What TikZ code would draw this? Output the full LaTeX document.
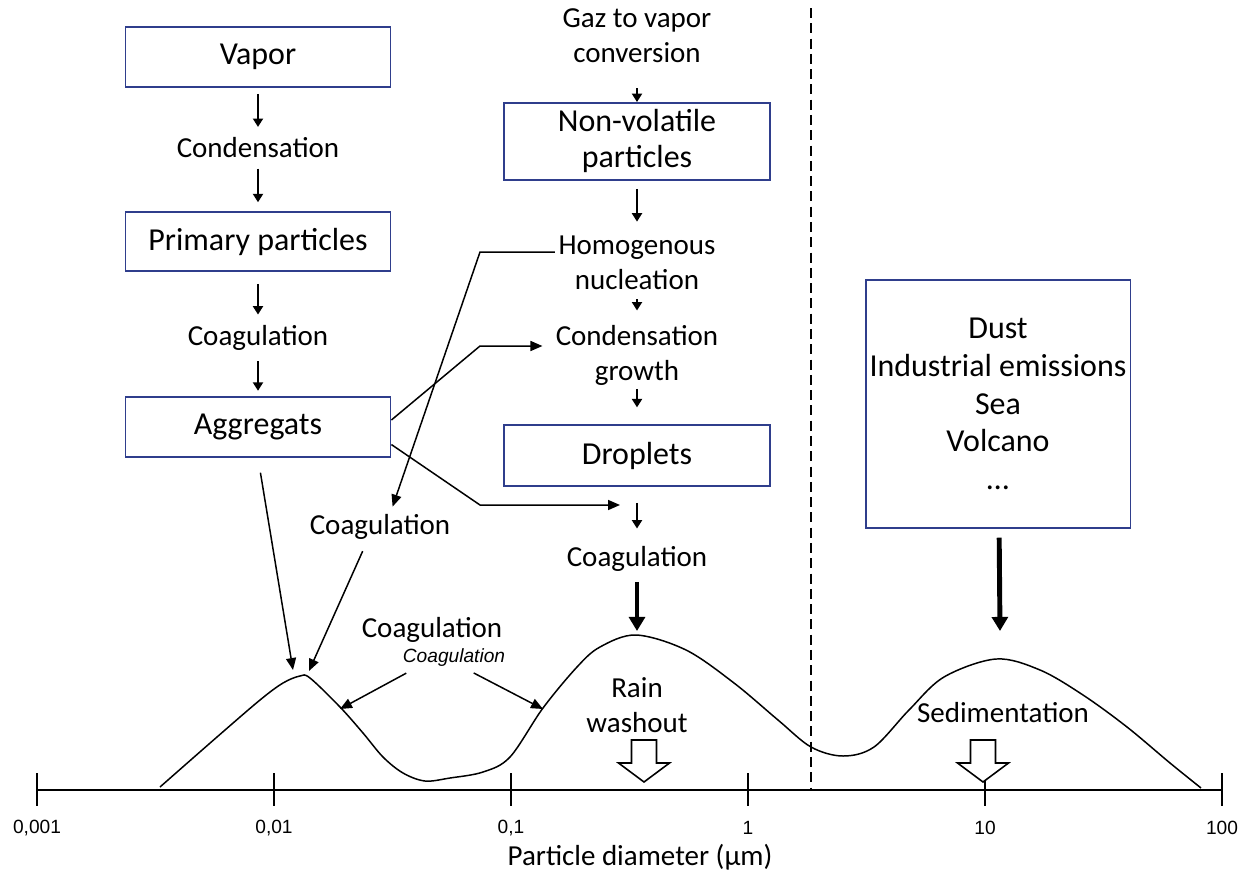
\documentclass[tikz,border=0pt]{standalone}
\usepackage{fontspec}
\setmainfont{Carlito}
\newfontfamily\arialfont{Liberation Sans}
\usetikzlibrary{arrows.meta}

\definecolor{boxblue}{RGB}{47,62,140}
\newcommand{\mainsize}{\fontsize{16.5}{20}\selectfont}
\newcommand{\boxsize}{\fontsize{18.2}{20.5}\selectfont}

\tikzset{
	procbox/.style={draw=boxblue, line width=1.1pt, inner sep=0pt, minimum width=5.3cm, minimum height=1.2cm, align=center, font=\boxsize},
	lbl/.style={inner sep=0pt, align=center, font=\mainsize},
	flow/.style={-{Triangle[length=4.8pt,width=5.7pt]}, line width=1.1pt},
	bigflow/.style={-{Triangle[length=8pt,width=9pt]}, line width=2.8pt},
	link/.style={-{Triangle[length=6.8pt,width=5.7pt]}, line width=0.85pt},
	openarr/.style={draw, fill=white, line width=0.9pt, line join=miter},
	ticklbl/.style={inner sep=0pt, font=\arialfont\fontsize{10.9}{12}\selectfont},
	axisline/.style={line width=1.1pt},
	sizecurve/.style={line width=0.85pt},
	divider/.style={line width=1pt, dash pattern=on 5.7pt off 3pt}
}

\begin{document}
\begin{tikzpicture}[x=0.02cm, y=-0.02cm, >=Stealth]
			
			\useasboundingbox (0,0) rectangle (1240,872);
			
			\node[procbox] (vapor) at (258,57) {Vapor};
			\node[lbl] (cond) at (258,148) {Condensation};
			\node[procbox, minimum height=1.18cm] (prim) at (258,241.5) {Primary particles};
			\node[lbl] (coagA) at (258,338) {Coagulation};
			\node[procbox] (aggr) at (258,427) {Aggregats};
			
			\node[lbl] (gaz) at (637,36) {Gaz to vapor\\conversion};
			\node[procbox, minimum width=5.32cm, minimum height=1.54cm, text depth=4pt] (nonvol) at (637,141.5) {Non-volatile\\particles};
			\node[lbl] (homog) at (637,263) {Homogenous\\nucleation};
			\node[lbl] (condgr) at (637,355) {Condensation\\growth};
			\node[procbox, minimum width=5.32cm, minimum height=1.22cm] (drop) at (637,455.5) {Droplets};
			\node[lbl] (coagB) at (637,559) {Coagulation};
			
			\node[procbox, minimum height=4.96cm, font=\fontsize{18.2}{21.5}\selectfont] (src) at (998,404)
			{Dust\\Industrial emissions\\Sea\\Volcano\\…};
			
			\node[lbl] (coagC) at (380,527) {Coagulation};
			\node[lbl] (coagD) at (432,630) {Coagulation};
			\node[lbl, font=\arialfont\itshape\fontsize{10.9}{12}\selectfont] (coagDi) at (454,658) {Coagulation};
			
			\coordinate (pkA1) at (293,670);
			\coordinate (pkA2) at (309,671);
			\coordinate (slA) at (340,709);
			\coordinate (slB) at (543,709);
			\coordinate (pkB) at (637,631);
			\coordinate (pkC) at (1000,631);
			\coordinate (bendH) at (480,252);
			\coordinate (bendG) at (480,346);
			\coordinate (bendD) at (480,505);
			\coordinate (dropin) at (620,505);
			
			\draw[divider] (811,8) -- (811,790);
			
			\draw[sizecurve] plot[smooth, tension=0.55] coordinates {(160,787) (217,737) (260,700) (283,683) (300,676)
				(310,678) (340,707) (363,733) (383,757) (403,773) (425,781) (450,778) (483,772) (510,757) (543,708)
				(577,667) (600,647) (636,635) (686,650) (734,683) (778,720) (811,747) (843,756) (874,747) (909,710)
				(944,677) (996,659) (1040,670) (1083,695) (1127,727) (1170,763) (1201,788)};
			
			\draw[axisline] (37,790) -- (1222,790);
			\foreach \i/\lab in {0/{0,001},1/{0,01},2/{0,1},3/1,4/10,5/100} {
				\draw[axisline] ({37+237*\i},773) -- ({37+237*\i},806);
				\node[ticklbl] (tick\i) at ({37+237*\i},828) {\lab};
			}
			\node[lbl] (xlabel) at (640,857) {Particle diameter (µm)};
			
			\foreach \cx in {644,983} {
				\draw[openarr] ({\cx-12.5},740) -- ({\cx+12.5},740) -- ({\cx+12.5},763) -- ({\cx+25.5},763)
				-- (\cx,782) -- ({\cx-25.5},763) -- ({\cx-12.5},763) -- cycle;
			}
			\node[lbl] (rain) at (637,705) {Rain\\washout};
			\node[lbl] (sedim) at (1003,713) {Sedimentation};
			
			\draw[flow, shorten <=3.4pt, shorten >=6pt] (vapor) -- (cond);
			\draw[flow, shorten <=5.7pt, shorten >=5pt] (cond) -- (prim);
			\draw[flow, shorten <=6.8pt, shorten >=6pt] (prim) -- (coagA);
			\draw[flow, shorten <=6pt, shorten >=3pt] (coagA) -- (aggr);
			
			\draw[flow, shorten <=14pt] (gaz) -- (nonvol);
			\draw[flow, shorten <=4.5pt, shorten >=8pt] (nonvol) -- (homog);
			\draw[flow, shorten <=5pt, shorten >=8pt] (homog) -- (condgr);
			\draw[flow, shorten <=2pt, shorten >=9.5pt] (condgr) -- (drop);
			\draw[flow, shorten <=9pt, shorten >=10pt] (drop) -- (coagB);
			\draw[bigflow, shorten <=5.7pt] (coagB) -- (pkB);
			\draw[bigflow, shorten <=5pt] (src) -- (pkC);
			
			\draw[link, shorten <=8.5pt] (aggr.south) -- (pkA1);
			\draw[link, shorten <=7pt] ([xshift=-7pt]coagC.south) -- (pkA2);
			\draw[link, shorten <=7pt] ([xshift=-21pt]coagDi.south) -- (slA);
			\draw[link, shorten <=7pt] ([xshift=5pt]coagDi.south) -- (slB);
			\draw[link, shorten >=7.4pt] ([yshift=4pt]aggr.east) -- (bendG) -- (bendG -| condgr.west);
			\draw[link] ([yshift=-10pt]aggr.east) -- (bendD) -- (dropin);
			\draw[link, shorten >=4.5pt] ([xshift=-2pt]bendH -| homog.west) -- (bendH) -- ([xshift=5.7pt]coagC.north);
			
\end{tikzpicture}
\end{document}
